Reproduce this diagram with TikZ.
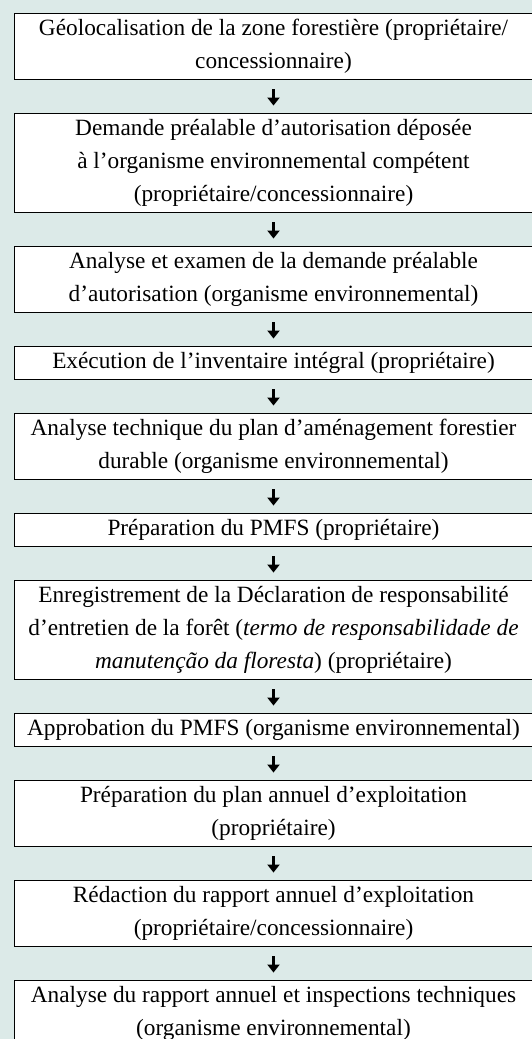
\documentclass[tikz,border=0pt]{standalone}
\usepackage{fontspec}
\setmainfont{Liberation Serif}
\usetikzlibrary{arrows.meta}
\definecolor{bgcol}{RGB}{220,234,232}
\tikzset{
  stepbox/.style={draw=black, line width=0.9pt, fill=white, rectangle,
    minimum width=519pt, inner sep=0pt, align=center,
    font=\fontsize{23.3}{33}\selectfont},
  one/.style={stepbox, minimum height=33pt},
  two/.style={stepbox, minimum height=66pt},
  three/.style={stepbox, minimum height=99pt},
  flow/.style={line width=2.4pt, -{Triangle[width=12pt,length=8pt]},
    shorten <=10pt, shorten >=7pt}
}
\begin{document}
\begin{tikzpicture}[x=1pt,y=-1pt]
\useasboundingbox (0,0) rectangle (532,1039);
\fill[bgcol] (0,0) rectangle (532,1039);
\clip (0,0) rectangle (532,1039);
\node[two]   (b1)  at (273.5, 46)   {Géolocalisation de la zone forestière (propriétaire/\\concessionnaire)};
\node[three] (b2)  at (273.5, 162.5) {Demande préalable d’autorisation déposée\\à l’organisme environnemental compétent\\(propriétaire/concessionnaire)};
\node[two]   (b3)  at (273.5, 279)  {Analyse et examen de la demande préalable\\d’autorisation (organisme environnemental)};
\node[one]   (b4)  at (273.5, 362.5) {Exécution de l’inventaire intégral (propriétaire)};
\node[two]   (b5)  at (273.5, 446)  {Analyse technique du plan d’aménagement forestier\\durable (organisme environnemental)};
\node[one]   (b6)  at (273.5, 529.5) {Préparation du PMFS (propriétaire)};
\node[three] (b7)  at (273.5, 629.5) {Enregistrement de la Déclaration de responsabilité\\d’entretien de la forêt (\textit{termo de responsabilidade de}\\\textit{manutenção da floresta}) (propriétaire)};
\node[one]   (b8)  at (273.5, 729.5) {Approbation du PMFS (organisme environnemental)};
\node[two]   (b9)  at (273.5, 813)  {Préparation du plan annuel d’exploitation\\(propriétaire)};
\node[two]   (b10) at (273.5, 913)  {Rédaction du rapport annuel d’exploitation\\(propriétaire/concessionnaire)};
\node[two]   (b11) at (273.5, 1013) {Analyse du rapport annuel et inspections techniques\\(organisme environnemental)};
\foreach \a/\b in {b1/b2,b2/b3,b3/b4,b4/b5,b5/b6,b6/b7,b7/b8,b8/b9,b9/b10,b10/b11}
  \draw[flow] (\a.south) -- (\b.north);
\end{tikzpicture}
\end{document}
